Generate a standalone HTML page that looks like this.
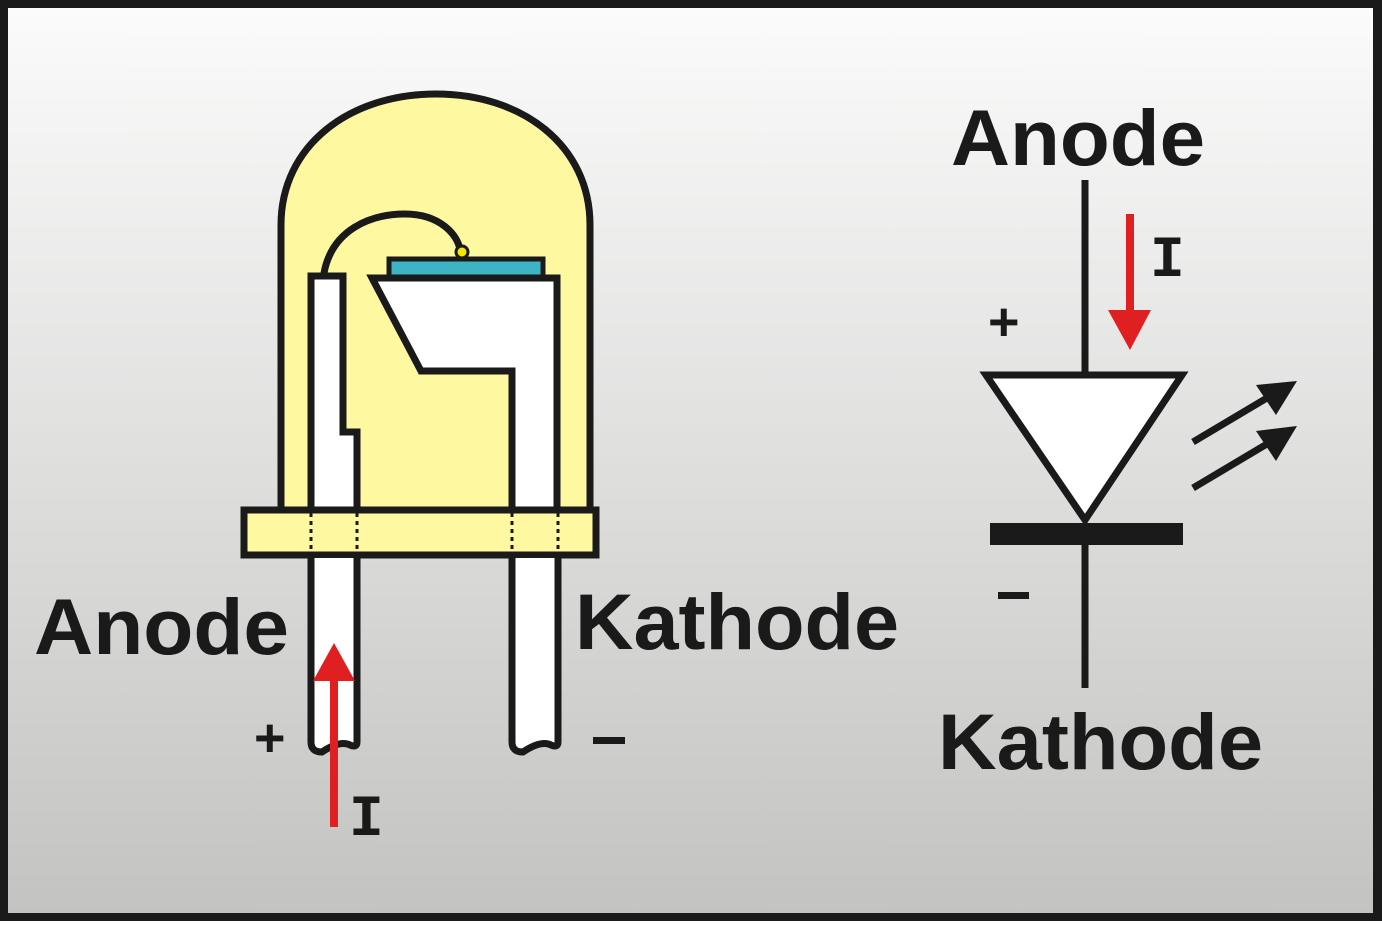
<!DOCTYPE html>
<html><head><meta charset="utf-8"><style>
html,body{margin:0;padding:0;}
body{width:1382px;height:921px;overflow:hidden;}
</style></head><body>
<svg width="1382" height="921" viewBox="0 0 1382 921" xmlns="http://www.w3.org/2000/svg">
<defs><linearGradient id="bg" x1="0" y1="0" x2="0" y2="1">
<stop offset="0" stop-color="#fbfbfb"/><stop offset="1" stop-color="#c3c3c1"/></linearGradient></defs>
<rect x="0" y="0" width="1382" height="921" fill="#1a1a1a"/>
<rect x="8" y="8" width="1365" height="905" fill="url(#bg)"/>
<g stroke="#1a1a1a" stroke-width="7" stroke-linejoin="miter">
<path d="M281 510 V225 C281 145 350 94 436 94 C522 94 590 145 590 225 V510" fill="#fef8a0"/>
<path d="M324 273 C332 230 370 214 405 214 C440 214 458 235 460 250" fill="none"/>
<rect x="389" y="259" width="154" height="18" fill="#3db4c4" stroke-width="5"/>
<path d="M311 510 V276 H343 V432 H357 V510" fill="#fff"/>
<path d="M372 278 H557 V510 H512 V371 H421 Z" fill="#fff"/>
<rect x="244" y="510" width="352" height="45" fill="#fef8a0"/>
<path d="M311 558 V742 Q311 752 322 752 Q340 740 350 745 Q357 748 357 742 V558" fill="#fff"/>
<path d="M512 558 V742 Q512 752 523 752 Q541 740 551 745 Q558 748 558 742 V558" fill="#fff"/>
</g>
<circle cx="462" cy="252" r="6" fill="#f5e500" stroke="#1a1a1a" stroke-width="3"/>
<g stroke="#1a1a1a" stroke-width="3" stroke-dasharray="4,4">
<line x1="311" y1="513" x2="311" y2="553"/><line x1="357" y1="513" x2="357" y2="553"/>
<line x1="512" y1="513" x2="512" y2="553"/><line x1="558" y1="513" x2="558" y2="553"/>
</g>
<line x1="334" y1="827" x2="334" y2="678" stroke="#e02020" stroke-width="8"/>
<polygon points="334,643 313,681 355,681" fill="#e02020"/>
<line x1="1130" y1="214" x2="1130" y2="315" stroke="#e02020" stroke-width="8"/>
<polygon points="1130,350 1108,310 1151,310" fill="#e02020"/>
<g stroke="#1a1a1a" stroke-width="7">
<line x1="1085" y1="180" x2="1085" y2="372"/>
<line x1="1085" y1="545" x2="1085" y2="688"/>
<polygon points="986,375 1182,375 1085,520" fill="#fff"/>
<line x1="1193" y1="442" x2="1272" y2="395"/>
<line x1="1193" y1="488" x2="1272" y2="441"/>
</g>
<rect x="990" y="523" width="193" height="22" fill="#1a1a1a"/>
<polygon points="1297,381 1256,385 1276,415" fill="#1a1a1a"/>
<polygon points="1297,426 1256,431 1276,461" fill="#1a1a1a"/>
<g font-family="Liberation Sans, sans-serif" font-weight="bold" fill="#1a1a1a">
<text x="951" y="165" font-size="79" textLength="254" lengthAdjust="spacingAndGlyphs">Anode</text>
<text x="938" y="769" font-size="79" textLength="325" lengthAdjust="spacingAndGlyphs">Kathode</text>
<text x="34" y="654" font-size="79" textLength="255" lengthAdjust="spacingAndGlyphs">Anode</text>
<text x="575" y="649" font-size="79" textLength="324" lengthAdjust="spacingAndGlyphs">Kathode</text>
<text x="988" y="340" font-size="54">+</text>
<text x="254" y="756" font-size="54">+</text>
</g>
<rect x="998" y="592" width="31" height="7" fill="#1a1a1a"/>
<rect x="593" y="737" width="32" height="7" fill="#1a1a1a"/>
<g font-family="Liberation Mono, monospace" font-weight="bold" fill="#1a1a1a" font-size="58">
<text x="1150" y="276">I</text>
<text x="349" y="835">I</text>
</g>
</svg>
</body></html>
